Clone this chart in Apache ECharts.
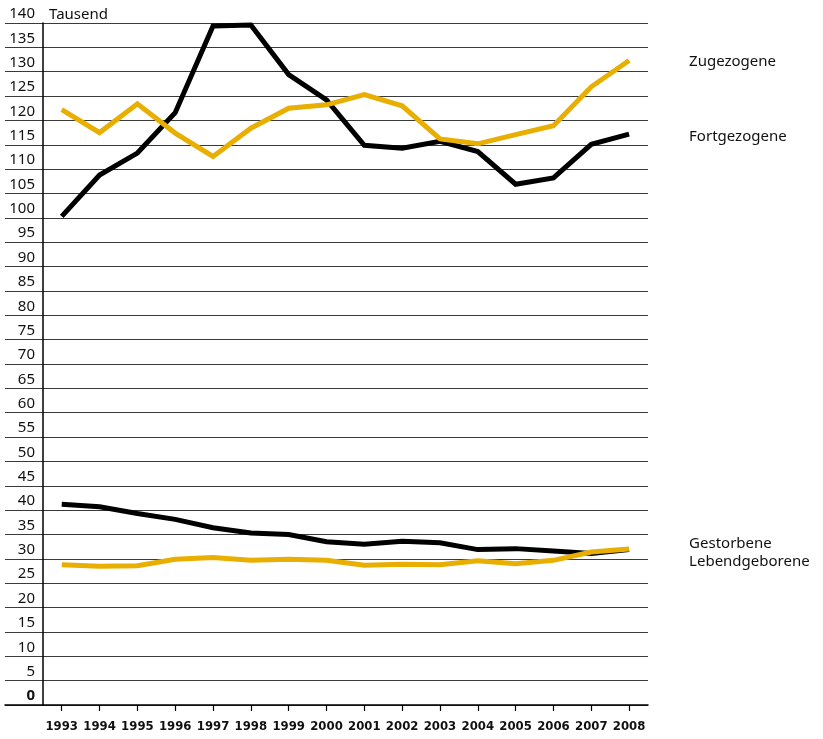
<!DOCTYPE html>
<html>
<head>
<meta charset="utf-8">
<script src="https://cdn.jsdelivr.net/npm/echarts@6/dist/echarts.min.js"></script>
<style>
  html, body { margin: 0; padding: 0; background: #fff; }
  #chart { width: 823px; height: 739px; }
</style>
</head>
<body>
<div id="chart"></div>
<script>
// Jahre
const years = [1993, 1994, 1995, 1996, 1997, 1998, 1999, 2000, 2001, 2002, 2003, 2004, 2005, 2006, 2007, 2008];
// Werte in Tausend
const fortgezogene = [100.3, 108.8, 113.3, 121.6, 139.4, 139.6, 129.4, 124.2, 114.9, 114.3, 115.7, 113.6, 106.9, 108.2, 115.1, 117.2];
const zugezogene = [122.2, 117.5, 123.4, 117.4, 112.6, 118.4, 122.5, 123.2, 125.3, 123.0, 116.2, 115.2, 117.1, 118.9, 126.9, 132.3];
const gestorbene = [41.2, 40.7, 39.3, 38.1, 36.4, 35.3, 35.0, 33.5, 33.0, 33.6, 33.3, 31.9, 32.1, 31.6, 31.1, 31.9];
const lebendgeborene = [28.8, 28.5, 28.6, 29.9, 30.3, 29.7, 29.9, 29.7, 28.7, 28.9, 28.8, 29.6, 29.0, 29.7, 31.4, 32.0];

const BLACK = '#000000';
const YELLOW = '#e8ae00';
const FONT = '"Noto Sans", sans-serif';

const chart = echarts.init(document.getElementById('chart'));

function pairs(vals) {
  return years.map((y, i) => [y, vals[i]]);
}

// Linie mit Beschriftung rechts
function makeLine(name, vals, color, dy) {
  return {
    name: name,
    type: 'line',
    data: pairs(vals),
    symbol: 'none',
    lineStyle: { color: color, width: 5, join: 'miter' },
    itemStyle: { color: color },
    endLabel: {
      show: true,
      formatter: name,
      distance: 0,
      offset: [60, dy],
      color: '#111',
      fontFamily: FONT,
      fontSize: 15
    },
    emphasis: { disabled: true },
    silent: true
  };
}

const option = {
  animation: false,
  grid: {
    left: 5,
    right: 175,
    top: 23,
    bottom: 34,
    outerBoundsMode: 'none'
  },
  xAxis: {
    type: 'value',
    min: 1991.5,
    max: 2008.5,
    splitLine: { show: false },
    axisLine: { show: true, lineStyle: { color: BLACK, width: 1.5 } },
    axisTick: {
      show: true,
      customValues: years,
      length: 6,
      lineStyle: { color: BLACK, width: 1.2 }
    },
    axisLabel: {
      customValues: years,
      formatter: v => String(v),
      margin: 15,
      color: '#111',
      fontFamily: '"DejaVu Sans Condensed", sans-serif',
      fontWeight: 'bold',
      fontSize: 13
    }
  },
  yAxis: {
    type: 'value',
    min: 0,
    max: 140,
    interval: 5,
    offset: -38,
    name: 'Tausend',
    nameLocation: 'end',
    nameGap: 8,
    nameTextStyle: {
      align: 'left',
      verticalAlign: 'middle',
      padding: [0, 0, 0, 6],
      color: '#111',
      fontFamily: FONT,
      fontSize: 15
    },
    axisLine: { show: true, lineStyle: { color: BLACK, width: 1.5 } },
    axisTick: { show: false },
    splitLine: { show: true, lineStyle: { color: '#3a3a3a', width: 1.2 } },
    axisLabel: {
      margin: 8,
      verticalAlign: 'bottom',
      lineHeight: 18,
      color: '#111',
      fontFamily: FONT,
      fontSize: 15,
      formatter: v => v === 0 ? '{b|0}' : String(v),
      rich: {
        b: { fontWeight: 'bold', fontFamily: FONT, fontSize: 15, color: '#111', lineHeight: 18 }
      }
    }
  },
  series: [
    makeLine('Fortgezogene', fortgezogene, BLACK, 2.4),
    makeLine('Zugezogene', zugezogene, YELLOW, 1.5),
    makeLine('Gestorbene', gestorbene, BLACK, -6.3),
    makeLine('Lebendgeborene', lebendgeborene, YELLOW, 12.7)
  ]
};

chart.setOption(option);
</script>
</body>
</html>
